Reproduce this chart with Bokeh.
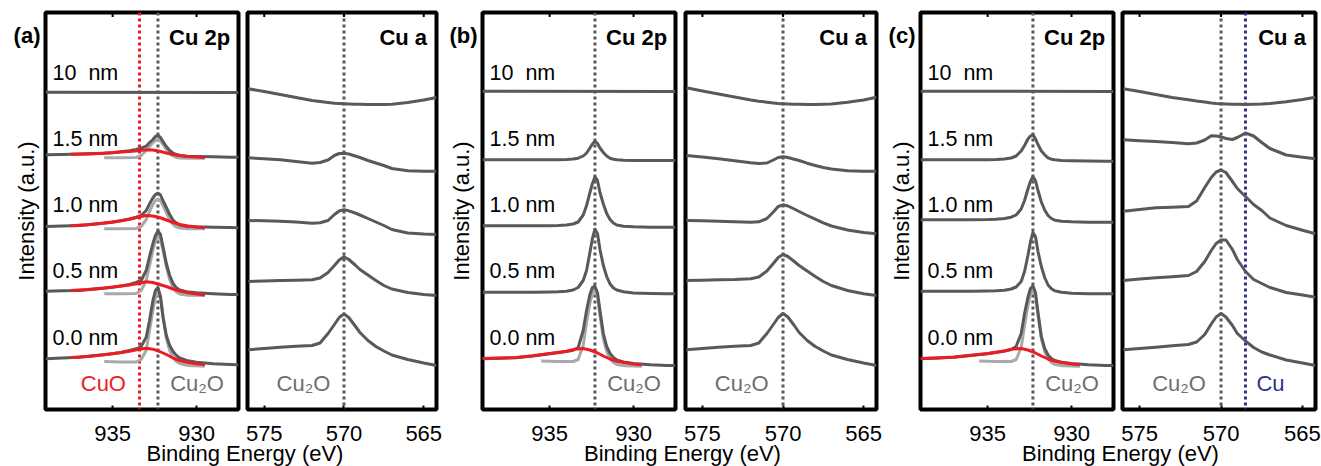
import math
from bokeh.plotting import figure
from bokeh.models import Range1d, Span, FixedTicker
from bokeh.layouts import row, column
from bokeh.embed import file_html
from bokeh.resources import INLINE
from bokeh.core.properties import value

FONT = "Liberation Sans"
DARK = "#58595b"
LIGHT = "#a7a9ac"
RED = "#ed1c24"
BLUE = "#2e3192"
TXT_GRAY = "#6d6e71"

# ---------------- data ----------------
THICKNESS = ["0.0 nm", "0.5 nm", "1.0 nm", "1.5 nm", "10\u00a0\u00a0nm"]
TICKS_2P = [935, 930]
TICKS_CUA = [575, 570, 565]
E_CU2O_2P = 932.3
E_CUO_2P = 933.4
E_CU2O_A = 570.0
E_CU_A = 568.5

X2P = [939.0, 938.0, 937.0, 936.0, 935.0, 934.5, 934.0, 933.6, 933.3, 933.0, 932.8, 932.6, 932.45,
       932.3, 932.15, 932.0, 931.8, 931.6, 931.4, 931.2, 931.0, 930.6, 930.0, 929.0, 928.0, 927.5]
X2P_FLAT = [939.0, 927.5]
GX = [935.5, 934.5, 933.6, 933.3, 933.0, 932.8, 932.6, 932.45, 932.3, 932.15, 932.0, 931.8,
      931.6, 931.4, 931.2, 931.0, 930.5, 929.5]
RX = [937.5, 936.5, 935.5, 934.5, 934.0, 933.5, 933.0, 932.6, 932.2, 931.8, 931.4, 931.0,
      930.5, 930.0, 929.5]
RX_FULL = [939.0, 938.0, 937.0, 936.0, 935.0, 934.0, 933.5, 933.0, 932.6, 932.2, 931.8, 931.4,
           931.0, 930.5, 930.0, 929.5]
XA = [576.0, 575.0, 574.0, 573.0, 572.0, 571.5, 571.0, 570.6, 570.3, 570.0, 569.7, 569.3,
      569.0, 568.5, 568.0, 567.5, 567.0, 566.0, 565.0, 564.2]

# (a) Cu 2p
A2P_00 = [51.7, 52.5, 53.3, 55.0, 56.7, 58.0, 60.0, 61.7, 64.0, 73.3, 90.0, 110.0, 120.0, 123.0, 114.0, 93.3, 75.0, 65.0, 59.0, 55.0, 52.5, 50.0, 48.3, 46.7, 46.0, 45.7]
A2P_05 = [119.3, 119.7, 120.0, 121.5, 123.3, 124.5, 126.0, 128.0, 130.0, 140.0, 154.0, 167.0, 175.0, 179.5, 176.0, 164.0, 147.0, 135.0, 127.0, 122.7, 120.5, 118.7, 117.7, 116.7, 116.0, 116.0]
A2P_10 = [184.0, 184.5, 185.0, 186.5, 188.3, 189.7, 191.3, 193.0, 195.0, 200.0, 206.7, 212.5, 216.0, 217.3, 215.5, 210.0, 203.0, 196.0, 190.5, 187.5, 185.5, 184.3, 183.7, 183.3, 183.0, 182.7]
A2P_15 = [255.7, 256.0, 256.5, 257.0, 257.7, 258.7, 259.7, 261.0, 262.3, 264.3, 268.0, 271.0, 274.0, 275.0, 273.0, 269.0, 264.0, 260.0, 257.5, 256.0, 255.0, 254.3, 254.0, 253.7, 253.3, 253.3]
A2P_100 = [318.3, 318.0]
AG_00 = [49.0, 48.5, 48.5, 51.0, 60.0, 80.0, 100.0, 113.0, 118.0, 114.0, 95.0, 72.0, 60.0, 53.0, 49.0, 47.0, 45.0, 44.3]
AG_05 = [116.7, 116.7, 117.0, 120.0, 130.0, 145.0, 160.0, 170.0, 174.0, 171.0, 160.0, 144.0, 131.0, 123.0, 118.5, 116.5, 115.3, 115.0]
AG_10 = [181.7, 181.7, 182.0, 184.0, 191.0, 199.0, 206.0, 210.0, 211.5, 210.0, 205.0, 198.0, 191.0, 186.0, 183.5, 182.5, 181.8, 181.7]
AG_15 = [252.7, 252.7, 253.0, 255.0, 260.0, 264.0, 268.0, 270.0, 270.7, 269.5, 266.0, 261.0, 257.0, 254.5, 253.0, 252.5, 252.3, 252.3]
AR_00 = [52.9, 54.1, 55.8, 58.0, 59.3, 61.0, 62.3, 61.3, 59.0, 56.0, 52.5, 50.0, 48.0, 46.7, 46.0]
AR_05 = [119.9, 120.9, 122.5, 124.5, 125.5, 127.0, 128.7, 128.0, 126.0, 124.0, 121.5, 119.5, 117.7, 116.5, 115.5]
AR_10 = [184.8, 185.8, 187.5, 189.7, 191.5, 193.5, 195.0, 194.5, 193.0, 190.5, 188.0, 186.0, 184.5, 183.5, 182.7]
AR_15 = [256.2, 256.6, 257.3, 258.5, 258.9, 259.7, 260.7, 260.5, 259.2, 257.5, 256.0, 255.0, 254.0, 253.5, 253.0]

# (a) Cu a
ACA_00 = [60.7, 62.0, 63.3, 64.3, 65.0, 67.5, 77.0, 86.0, 93.0, 96.5, 93.0, 84.5, 78.0, 70.0, 64.0, 59.5, 55.5, 51.0, 47.5, 45.0]
ACA_05 = [129.0, 129.5, 130.0, 130.3, 130.7, 132.5, 138.0, 145.0, 150.5, 153.7, 151.0, 145.5, 141.0, 135.5, 130.0, 125.0, 121.5, 118.0, 116.0, 115.0]
ACA_10 = [190.0, 189.7, 189.3, 188.5, 187.3, 187.7, 190.0, 196.0, 199.5, 200.7, 199.7, 197.5, 195.5, 192.0, 188.5, 185.0, 181.0, 177.5, 176.5, 176.0]
ACA_15 = [252.7, 251.7, 250.7, 249.0, 247.3, 248.0, 250.5, 255.0, 257.0, 257.3, 256.5, 254.5, 253.0, 250.0, 247.5, 245.0, 242.0, 239.7, 239.3, 239.3]
ACA_100 = [321.7, 319.0, 316.0, 313.0, 310.0, 309.0, 308.0, 307.3, 307.0, 306.7, 306.5, 306.3, 306.2, 306.0, 306.0, 306.0, 306.3, 308.0, 310.5, 313.0]

# (b) Cu 2p
B2P_00 = [51.7, 52.2, 52.7, 54.5, 56.7, 57.7, 59.0, 60.3, 63.0, 80.0, 100.0, 116.0, 123.0, 124.0, 118.0, 100.0, 77.0, 64.0, 57.0, 53.0, 50.5, 48.5, 47.0, 45.7, 45.0, 45.0]
B2P_05 = [118.3, 118.3, 118.3, 118.3, 118.5, 118.7, 119.3, 120.5, 123.0, 130.0, 140.0, 158.0, 172.0, 181.3, 177.0, 161.0, 145.0, 134.0, 126.5, 122.5, 120.5, 118.7, 117.5, 117.0, 116.7, 116.7]
B2P_10 = [184.7, 184.7, 184.7, 184.7, 184.8, 185.0, 185.5, 186.5, 188.5, 195.5, 205.0, 218.0, 227.0, 233.5, 230.0, 218.0, 206.5, 197.0, 191.0, 187.5, 185.5, 184.3, 183.7, 183.3, 183.3, 183.3]
B2P_15 = [250.7, 250.7, 250.7, 250.7, 250.7, 250.8, 251.0, 251.5, 252.3, 254.5, 257.5, 262.5, 266.5, 269.3, 267.0, 262.5, 258.0, 254.5, 252.3, 251.3, 250.7, 250.3, 250.0, 250.0, 250.0, 250.0]
B2P_100 = [319.3, 319.0]
BG_00 = [49.5, 49.0, 49.0, 51.0, 65.0, 88.0, 107.0, 117.0, 120.0, 114.0, 95.0, 72.0, 59.0, 52.0, 48.0, 46.0, 44.7, 44.3]
BR_00 = [51.9, 52.4, 52.9, 54.7, 56.9, 59.3, 61.3, 62.0, 60.5, 58.0, 54.5, 51.5, 49.3, 47.7, 46.5, 45.7]

# (b) Cu a
BCA_00 = [60.7, 62.0, 63.3, 64.3, 65.0, 67.5, 77.0, 86.0, 93.0, 97.0, 93.5, 85.0, 78.0, 70.0, 64.0, 59.5, 55.5, 51.0, 47.5, 45.0]
BCA_05 = [130.0, 130.3, 130.7, 131.0, 131.7, 133.5, 139.5, 147.0, 153.0, 156.0, 154.0, 149.0, 145.0, 139.5, 134.0, 129.0, 125.0, 120.0, 116.7, 115.0]
BCA_10 = [190.0, 189.7, 189.3, 188.8, 188.3, 188.7, 192.0, 198.5, 204.0, 205.7, 204.5, 201.5, 199.0, 195.0, 191.3, 187.7, 184.5, 180.5, 178.0, 176.7]
BCA_15 = [255.0, 253.5, 251.7, 249.7, 247.7, 247.0, 247.5, 250.5, 253.0, 253.7, 253.0, 251.3, 250.0, 247.3, 245.0, 243.0, 241.5, 239.7, 239.3, 239.3]
BCA_100 = [322.7, 319.5, 316.5, 313.5, 310.5, 309.3, 308.3, 307.5, 307.0, 306.7, 306.5, 306.3, 306.2, 306.0, 306.0, 306.2, 306.5, 308.3, 310.5, 313.3]

# (c) Cu 2p
C2P_00 = [51.7, 52.5, 53.3, 55.0, 56.7, 58.0, 59.5, 61.0, 64.0, 77.0, 97.0, 113.0, 122.0, 124.5, 118.0, 98.0, 74.0, 62.0, 55.5, 52.0, 50.0, 48.3, 47.0, 45.7, 45.0, 45.0]
C2P_05 = [119.3, 119.3, 119.3, 119.3, 119.5, 119.7, 120.3, 121.5, 123.5, 129.0, 139.0, 155.0, 168.5, 178.0, 174.0, 159.0, 144.0, 133.0, 125.5, 121.7, 119.7, 118.3, 117.3, 116.8, 116.7, 116.7]
C2P_10 = [190.7, 190.7, 190.7, 190.8, 191.0, 191.3, 192.0, 193.3, 195.5, 201.5, 210.0, 221.5, 229.0, 233.7, 230.0, 220.0, 208.5, 200.5, 195.0, 192.0, 190.3, 189.3, 188.7, 188.3, 188.3, 188.3]
C2P_15 = [250.7, 250.7, 250.7, 250.7, 250.8, 251.0, 251.5, 252.5, 254.5, 259.5, 265.0, 271.5, 274.5, 275.7, 271.7, 266.0, 259.5, 255.7, 252.7, 251.3, 250.7, 250.0, 249.7, 249.5, 249.3, 249.3]
C2P_100 = [319.3, 319.0]
CG_00 = [49.5, 49.0, 49.0, 51.0, 63.0, 85.0, 105.0, 116.0, 120.5, 115.0, 96.0, 72.0, 59.0, 52.0, 48.0, 46.0, 44.7, 44.3]
CR_00 = [51.9, 52.6, 53.4, 55.2, 56.9, 59.5, 61.5, 62.0, 60.5, 58.0, 54.5, 51.5, 49.3, 47.7, 46.5, 45.7]

# (c) Cu a
CCA_00 = [60.7, 62.0, 63.3, 64.7, 66.0, 68.5, 76.0, 86.5, 93.5, 97.0, 93.5, 85.0, 77.0, 69.5, 63.0, 58.5, 55.5, 50.5, 47.5, 45.0]
CCA_05 = [130.0, 131.5, 132.7, 133.8, 135.0, 139.0, 149.0, 160.0, 167.0, 170.5, 170.5, 161.0, 151.0, 139.0, 131.0, 127.0, 123.0, 118.0, 115.5, 113.3]
CCA_10 = [199.3, 201.0, 202.7, 203.3, 204.0, 209.5, 223.0, 233.0, 238.5, 240.5, 238.0, 229.0, 222.0, 214.0, 206.0, 200.0, 192.5, 185.0, 180.3, 176.7]
CCA_15 = [270.7, 269.8, 269.0, 268.0, 266.7, 267.5, 270.5, 274.7, 274.5, 273.7, 272.0, 271.0, 273.0, 277.5, 274.5, 268.0, 262.0, 255.5, 253.3, 251.7]
CCA_100 = [321.7, 319.0, 316.0, 313.0, 310.7, 309.5, 308.5, 307.5, 307.0, 306.7, 306.5, 306.3, 306.2, 306.0, 306.2, 306.5, 307.0, 308.7, 311.0, 313.3]

# ---------------- layout constants ----------------
RANGE_2P = (939.0, 927.5)
RANGE_A = (576.05, 564.2)
Y_RANGE = (1, 398)
FRAME_H = 397
BOTTOM = 57
STRIP_H = 30
LABEL_X = 938.58
LABEL_Y = [72.8, 139.5, 205.8, 271.8, 338.0]
TITLE_Y = 373.3
SPECIES_Y = 26.7
LETTER_Y = 375.0
FS = "22px"


def style_fig(p, ticks):
    p.outline_line_color = "black"
    p.outline_line_width = 4
    p.xgrid.visible = False
    p.ygrid.visible = False
    p.background_fill_color = "white"
    p.border_fill_color = "white"
    xa = p.xaxis[0]
    xa.ticker = FixedTicker(ticks=ticks)
    xa.major_tick_in = 4
    xa.major_tick_out = 0
    xa.minor_tick_in = 0
    xa.minor_tick_out = 0
    xa.major_tick_line_width = 2
    xa.minor_tick_line_color = None
    xa.axis_line_color = None
    xa.axis_label_standoff = 0
    xa.major_label_text_font = FONT
    xa.major_label_text_font_size = FS
    xa.major_label_text_color = "black"
    xa.major_label_standoff = 16
    # inward tick marks on the top edge of the box
    p.scatter(x=ticks, y=[Y_RANGE[1]] * len(ticks), marker="dash", angle=math.pi / 2,
              size=9, line_width=2, line_color="black")


def add_text(p, xs, ys, texts, color="black", bold=False, align="left", size=FS):
    p.text(x=xs, y=ys, text=texts, text_font=value(FONT), text_font_size=size,
           text_font_style="bold" if bold else "normal", text_baseline="middle",
           text_align=align, text_color=color)


def make_2p(mbl, mbr, fw, curves, grays, reds, letter, red_line):
    p = figure(frame_width=fw, frame_height=FRAME_H, x_range=Range1d(*RANGE_2P),
               y_range=Range1d(*Y_RANGE), min_border_left=mbl, min_border_right=mbr,
               min_border_top=12, min_border_bottom=BOTTOM, toolbar_location=None,
               output_backend="svg")
    style_fig(p, TICKS_2P)
    ya = p.yaxis[0]
    ya.ticker = FixedTicker(ticks=[LETTER_Y])
    ya.major_label_overrides = {LETTER_Y: letter}
    ya.major_label_text_font = FONT
    ya.major_label_text_font_size = FS
    ya.major_label_text_font_style = "bold"
    ya.major_label_text_color = "black"
    ya.major_label_standoff = 5
    ya.major_tick_in = 0
    ya.major_tick_out = 0
    ya.minor_tick_in = 0
    ya.minor_tick_out = 0
    ya.major_tick_line_color = None
    ya.minor_tick_line_color = None
    ya.axis_line_color = None
    ya.axis_label = "Intensity (a.u.)"
    ya.axis_label_text_font = FONT
    ya.axis_label_text_font_size = FS
    ya.axis_label_text_font_style = "normal"
    ya.axis_label_text_color = "black"
    ya.axis_label_standoff = -28

    p.add_layout(Span(location=E_CU2O_2P, dimension="height", line_color=DARK,
                      line_dash="3 3", line_width=3, level="underlay"))
    if red_line:
        p.add_layout(Span(location=E_CUO_2P, dimension="height", line_color=RED,
                          line_dash="3 3", line_width=3, level="underlay"))
    for g in grays:
        p.line(GX, g, line_color=LIGHT, line_width=3, line_join="round")
    for xs, c in curves:
        p.line(xs, c, line_color=DARK, line_width=3, line_join="round")
    for xs, r in reds:
        p.line(xs, r, line_color=RED, line_width=3, line_join="round")

    add_text(p, [LABEL_X] * 5, LABEL_Y, THICKNESS, size="21.5px")
    add_text(p, [928.0], [TITLE_Y], ["Cu 2p"], bold=True, align="right")
    add_text(p, [931.57], [SPECIES_Y], ["Cu\u2082O"], color=TXT_GRAY)
    if red_line:
        add_text(p, [936.9], [SPECIES_Y], ["CuO"], color=RED)
    return p


def make_cua(mbl, mbr, fw, curves, cu_line):
    p = figure(frame_width=fw, frame_height=FRAME_H, x_range=Range1d(*RANGE_A),
               y_range=Range1d(*Y_RANGE), min_border_left=mbl, min_border_right=mbr,
               min_border_top=12, min_border_bottom=BOTTOM, toolbar_location=None,
               output_backend="svg", y_axis_location=None)
    style_fig(p, TICKS_CUA)
    p.add_layout(Span(location=E_CU2O_A, dimension="height", line_color=DARK,
                      line_dash="3 3", line_width=3, level="underlay"))
    if cu_line:
        p.add_layout(Span(location=E_CU_A, dimension="height", line_color=BLUE,
                          line_dash="3 3", line_width=3, level="underlay"))
    for c in curves:
        p.line(XA, c, line_color=DARK, line_width=3, line_join="round")
    add_text(p, [564.79], [TITLE_Y], ["Cu a"], bold=True, align="right")
    add_text(p, [574.23], [SPECIES_Y], ["Cu\u2082O"], color=TXT_GRAY)
    if cu_line:
        add_text(p, [567.83], [SPECIES_Y], ["Cu"], color=BLUE)
    return p


a1 = make_2p(45, 4, 193,
             [(X2P, A2P_00), (X2P, A2P_05), (X2P, A2P_10), (X2P, A2P_15), (X2P_FLAT, A2P_100)],
             [AG_00, AG_05, AG_10, AG_15],
             [(RX, AR_00), (RX, AR_05), (RX, AR_10), (RX, AR_15)], "(a)", True)
a2 = make_cua(5, 7, 189, [ACA_00, ACA_05, ACA_10, ACA_15, ACA_100], False)
b1 = make_2p(39, 4, 193,
             [(X2P, B2P_00), (X2P, B2P_05), (X2P, B2P_10), (X2P, B2P_15), (X2P_FLAT, B2P_100)],
             [BG_00], [(RX_FULL, BR_00)], "(b)", False)
b2 = make_cua(6, 6, 191, [BCA_00, BCA_05, BCA_10, BCA_15, BCA_100], False)
c1 = make_2p(38, 3, 193,
             [(X2P, C2P_00), (X2P, C2P_05), (X2P, C2P_10), (X2P, C2P_15), (X2P_FLAT, C2P_100)],
             [CG_00], [(RX_FULL, CR_00)], "(c)", False)
c2 = make_cua(6, 6, 193, [CCA_00, CCA_05, CCA_10, CCA_15, CCA_100], True)

# transparent strip laid over the bottom of the row, carrying the shared x-axis titles
strip = figure(width=1321, height=STRIP_H, x_range=Range1d(0, 1321), y_range=Range1d(0, STRIP_H),
               min_border=0, toolbar_location=None, output_backend="svg",
               x_axis_location=None, y_axis_location=None, margin=(-STRIP_H, 0, 0, 0))
strip.outline_line_color = None
strip.background_fill_color = None
strip.border_fill_color = None
strip.xgrid.visible = False
strip.ygrid.visible = False
add_text(strip, [244.5, 682.0, 1120.0], [13.0, 13.0, 13.0], ["Binding Energy (eV)"] * 3,
         align="center")

layout = column(row(a1, a2, b1, b2, c1, c2, spacing=0), strip, spacing=0)
open("out.html", "w").write(file_html(layout, INLINE))
